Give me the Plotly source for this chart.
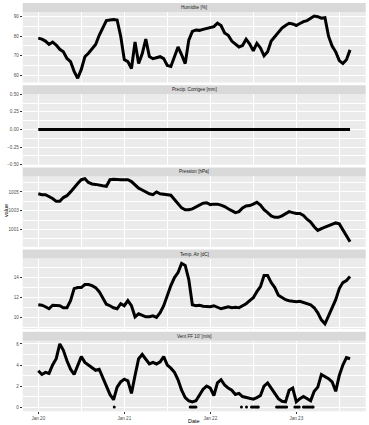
import pandas as pd
import plotly.graph_objects as go

# ---- data (hourly readings, starting Jan 20 00:00) ----
humidity = [79, 78.5, 77.5, 75.8, 77, 75.5, 73.3, 72, 68.6, 67, 62, 58.5, 63, 69.5, 71.3, 73.8,
            75.8, 80.5, 84.5, 88, 88.3, 88.5, 88.3, 80, 68, 67, 63.5, 77, 66, 71, 78.5, 69.6,
            68.5, 69, 69.5, 68.5, 65, 64.5, 69.5, 74.5, 70.5, 66, 78, 82.5, 83.2, 83, 83.5, 84,
            84.5, 84.9, 86.7, 85.5, 81.7, 80.5, 77.5, 76, 74.5, 75.2, 78.5, 76, 72.5, 76.4, 74, 70,
            72, 77.5, 79.8, 82.3, 84.2, 85.5, 86.6, 86.3, 85.5, 86.5, 87.5, 88, 89.3, 90.3, 90, 89.2,
            89.5, 80, 75, 72, 67.5, 66, 68, 73]
precip = [0.0] * 88
pressure = [1004.8, 1004.7, 1004.7, 1004.5, 1004.3, 1004.0, 1004.0, 1004.4, 1004.6, 1005.0, 1005.5,
            1005.9, 1006.3, 1006.4, 1006.0, 1005.85, 1005.8, 1005.7, 1005.65, 1005.6, 1006.3, 1006.35,
            1006.3, 1006.3, 1006.3, 1006.3, 1006.1, 1005.7, 1005.4, 1005.2, 1005.0, 1004.8, 1004.7,
            1005.0, 1004.8, 1004.75, 1004.7, 1004.65, 1004.2, 1003.8, 1003.3, 1003.1, 1003.1, 1003.2,
            1003.4, 1003.6, 1003.8, 1003.85, 1003.65, 1003.7, 1003.7, 1003.6, 1003.45, 1003.2, 1003.0,
            1002.8, 1002.9, 1003.3, 1003.5, 1003.55, 1003.7, 1003.9, 1003.6, 1003.1, 1002.8, 1002.45,
            1002.3, 1002.3, 1002.45, 1002.7, 1002.9, 1002.8, 1002.7, 1002.7, 1002.5, 1002.1, 1001.8,
            1001.3, 1000.9, 1001.1, 1001.25, 1001.4, 1001.6, 1001.7, 1001.6, 1001.0, 1000.3, 999.7]
temperature = [11.3, 11.25, 11.1, 10.9, 11.25, 11.25, 11.2, 11.0, 11.0, 11.7, 12.9, 13.0, 13.0, 13.3,
               13.3, 13.2, 13.0, 12.6, 12.0, 11.35, 11.2, 11.0, 10.9, 11.4, 11.2, 11.7, 11.2, 10.1,
               10.4, 10.25, 10.1, 10.1, 10.2, 10.05, 10.5, 11.2, 12.3, 13.2, 14.0, 14.5, 15.4, 15.2,
               13.8, 11.3, 11.2, 11.25, 11.15, 11.1, 11.1, 11.2, 11.05, 10.9, 11.0, 11.1, 11.0, 11.05,
               11.0, 11.2, 11.4, 11.7, 12.0, 12.6, 13.1, 14.2, 14.2, 13.5, 13.0, 12.25, 12.0, 11.8,
               11.7, 11.65, 11.6, 11.65, 11.55, 11.4, 11.3, 11.0, 10.5, 9.8, 9.4, 10.2, 11.0, 11.8,
               12.9, 13.5, 13.7, 14.1]
wind = [3.45, 3.1, 3.3, 3.2, 4.0, 4.6, 6.0, 5.4, 4.4, 3.6, 3.1, 4.0, 4.8, 4.25, 4.0, 3.7, 3.5, 3.6,
        2.8, 2.0, 1.2, 0.7, 1.9, 2.4, 2.65, 2.5, 1.3, 3.0, 4.6, 5.0, 4.5, 4.1, 4.25, 4.1, 4.3, 4.8,
        4.0, 3.7, 3.3, 2.6, 1.6, 0.9, 0.6, 0.5, 0.6, 1.2, 1.7, 2.0, 1.8, 1.1, 2.3, 2.6, 2.1, 1.8,
        1.6, 1.2, 1.3, 1.0, 0.9, 0.85, 0.75, 0.9, 1.1, 2.0, 2.3, 1.8, 1.3, 0.8, 0.55, 0.5, 1.6, 1.8,
        0.5, 0.8, 1.0, 0.8, 0.6, 1.5, 1.9, 3.1, 2.9, 2.7, 2.4, 1.5, 3.0, 4.0, 4.7, 4.6]
# hours (since Jan 20 00:00) with calm (0 m/s) readings
wind_calm_hours = [21.2, 42.4, 42.8, 43.2, 43.6, 44.0, 56.7, 58.1, 59.5, 59.9, 60.3, 60.7, 61.1,
                   61.4, 66.5, 66.9, 67.3, 67.7, 68.1, 68.5, 68.9, 69.3, 71.6, 72.0, 72.4, 72.8,
                   74.0, 74.4, 74.8, 75.2, 75.6, 76.0, 76.4, 76.7]

panel_titles = ["Humidite [%]", "Precip. Corrigee [mm]", "Pression [hPa]", "Temp. Air [dC]", "Vent FF 10' [m/s]"]
series = [humidity, precip, pressure, temperature, wind]
y_ranges = [[56.3, 92.4], [-0.5, 0.5], [999.15, 1006.65], [8.88, 15.88], [-0.4, 6.3]]
y_tick0 = [60, -0.5, 1001, 10, 0]
y_dtick = [10, 0.25, 2, 2, 2]

start = pd.Timestamp("2023-01-20 00:00")
times = pd.date_range(start, periods=len(humidity), freq="h")
calm_times = [start + pd.Timedelta(hours=h) for h in wind_calm_hours]

W, H = 369, 425
x_left, x_right = 22.7, 365.7
strip_h = 9.0
panel_h = 70.5
period = 82.2
top0 = 3.0

fig = go.Figure()
layout = dict(width=W, height=H, margin=dict(l=0, r=0, t=0, b=0),
              paper_bgcolor="white", plot_bgcolor="#EBEBEB", showlegend=False,
              font=dict(family="Liberation Sans, Arial, sans-serif", size=5, color="#4D4D4D"))
shapes, annotations = [], []

xr = [start - pd.Timedelta(hours=4.35), start + pd.Timedelta(hours=91.37)]

for i in range(5):
    s_top = top0 + i * period
    p_top = s_top + strip_h
    p_bot = p_top + panel_h
    sfx = "" if i == 0 else str(i + 1)
    fig.add_trace(go.Scatter(x=times, y=series[i], mode="lines",
                             line=dict(color="black", width=3),
                             xaxis="x" + sfx, yaxis="y" + sfx, hoverinfo="skip"))
    last = i == 4
    layout["xaxis" + sfx] = dict(
        domain=[x_left / W, x_right / W], anchor="y" + sfx, range=xr, type="date",
        tick0="2023-01-20", dtick=86400000, tickformat="%b %d",
        showgrid=True, gridcolor="white", gridwidth=1, zeroline=False,
        minor=dict(dtick=43200000, tick0="2023-01-20 12:00", showgrid=True, gridcolor="white", gridwidth=0.5),
        showticklabels=last, ticks="outside" if last else "", ticklen=2, tickwidth=0.6, tickcolor="#333333",
        tickfont=dict(size=4.6, color="#4D4D4D"), automargin=False, showline=False,
        matches=None if i == 0 else "x")
    layout["yaxis" + sfx] = dict(
        domain=[1 - p_bot / H, 1 - p_top / H], anchor="x" + sfx, range=y_ranges[i],
        tick0=y_tick0[i], dtick=y_dtick[i],
        tickformat=".2f" if i == 1 else "d",
        showgrid=True, gridcolor="white", gridwidth=1, zeroline=False,
        minor=dict(tick0=y_tick0[i], dtick=y_dtick[i] / 2, showgrid=True, gridcolor="white", gridwidth=0.5),
        ticks="outside", ticklen=2, tickwidth=0.6, tickcolor="#333333",
        tickfont=dict(size=4.6, color="#4D4D4D"), automargin=False, showline=False)
    shapes.append(dict(type="rect", xref="paper", yref="paper",
                       x0=x_left / W, x1=x_right / W, y0=1 - p_top / H, y1=1 - s_top / H,
                       fillcolor="#D9D9D9", line=dict(width=0), layer="below"))
    annotations.append(dict(text=panel_titles[i], xref="paper", yref="paper",
                            x=(x_left + x_right) / 2 / W, y=1 - (s_top + strip_h / 2) / H,
                            showarrow=False, xanchor="center", yanchor="middle",
                            font=dict(size=4.6, color="#1A1A1A")))

fig.add_trace(go.Scatter(x=calm_times, y=[0] * len(calm_times), mode="markers",
                         marker=dict(color="black", size=3), xaxis="x5", yaxis="y5", hoverinfo="skip"))

annotations.append(dict(text="value", xref="paper", yref="paper", x=6 / W, y=1 - 211 / H,
                        textangle=-90, showarrow=False, xanchor="center", yanchor="middle",
                        font=dict(size=5.5, color="black")))
annotations.append(dict(text="Date", xref="paper", yref="paper", x=(x_left + x_right) / 2 / W, y=1 - 420.5 / H,
                        showarrow=False, xanchor="center", yanchor="middle",
                        font=dict(size=5.5, color="black")))
layout["shapes"] = shapes
layout["annotations"] = annotations
fig.update_layout(**layout)
fig.write_html("out.html")
